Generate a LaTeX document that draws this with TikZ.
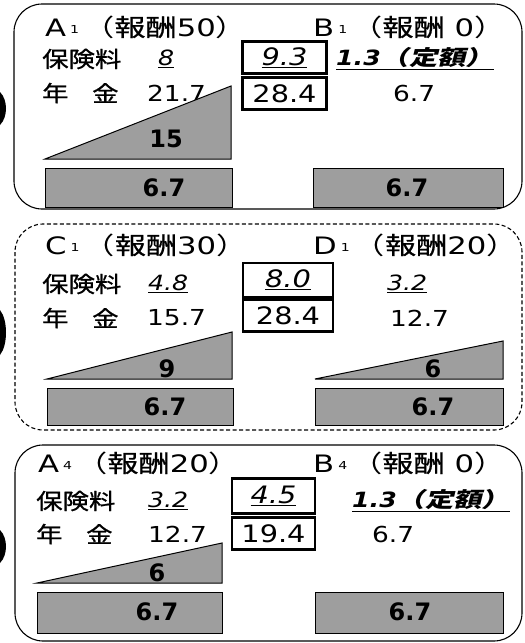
\documentclass[tikz,border=0pt]{standalone}
\usepackage{fontspec}
\setmainfont{DejaVu Sans}
\newfontfamily\numf[FakeStretch=1.2]{DejaVu Sans}
\newfontfamily\ttlf[FakeStretch=1.28]{DejaVu Sans}
\newfontfamily\jp[FakeStretch=1.2,FakeBold=1]{Noto Sans CJK JP}
\newfontfamily\jpt[FakeStretch=1.3,FakeBold=0.8]{Noto Sans CJK JP}
\newfontfamily\jpp[FakeStretch=1.3]{Noto Sans CJK JP}
\newfontfamily\jpit[FakeStretch=1.35,FakeSlant=0.25]{Noto Sans CJK JP}
\newcommand\subn[1]{\hspace{4pt}\raisebox{0.1em}{\fontsize{11}{11}\selectfont #1}\hspace{4pt}}
\begin{document}
\begin{tikzpicture}[x=1pt,y=-1pt,
  panel/.style={draw, line width=1.1pt, rounded corners=28pt},
  ttl/.style={anchor=west, inner sep=0, font=\ttlf\fontsize{24}{24}\selectfont},
  lbl/.style={anchor=west, inner sep=0, font=\jp\fontsize{22}{22}\selectfont},
  num/.style={anchor=west, inner sep=0, font=\numf\fontsize{22}{22}\selectfont},
  prem/.style={anchor=west, inner sep=0, font=\numf\itshape\fontsize{21}{21}\selectfont},
  boxnum/.style={draw, line width=2.2pt, inner sep=0, font=\numf\fontsize{24}{24}\selectfont},
  shadefill/.style={fill=black!38, draw=black, line width=1pt},
  boldnum/.style={inner sep=0, font=\bfseries\fontsize{24}{24}\selectfont},
]
\useasboundingbox (0,0) rectangle (525,643);

% ---------- left markers ----------
\fill (0,92) .. controls (8,100) and (8,117) .. (0,125) -- cycle;
\fill (0,310) .. controls (8,320) and (8,345) .. (0,355) -- cycle;
\fill (0,530) .. controls (8,538) and (8,555) .. (0,563) -- cycle;

% ---------- panel 1 ----------
\draw[panel] (14,4) rectangle (522,209);
\node[ttl] (t1a) at (45,27) {A\subn{1}{\jpp （}{\jpt 報酬}50{\jpp ）}};
\node[ttl] (t1b) at (313,27) {B\subn{1}{\jpp （}{\jpt 報酬} 0{\jpp ）}};
\node[lbl] (p1a) at (42,59) {保険料};
\node[prem] (p1av) at (158,59) {\underline{8}};
\node[prem] (p1bv) at (336,59) {\bfseries\underline{1.3{\jpit （定額）}}};
\node[lbl] (n1a) at (42,93) {年};
\node[lbl] (n1b) at (92,93) {金};
\node[num] (n1av) at (147,93) {21.7};
\node[num] (n1bv) at (393,93) {6.7};
\node[boxnum, minimum width=84, minimum height=32] (b1t) at (284.5,57.5) {\itshape\underline{9.3}};
\node[boxnum, minimum width=84, minimum height=32] (b1b) at (284.5,93.5) {28.4};
\draw[shadefill] (45,159) -- (231,86) -- (231,159) -- cycle;
\node[boldnum] (tr1) at (166,139) {15};
\draw[shadefill] (45,168) rectangle (232,207);
\node[boldnum] (r1a) at (164,188) {6.7};
\draw[shadefill] (313,168) rectangle (503,207);
\node[boldnum] (r1b) at (407,188) {6.7};

% ---------- panel 2 ----------
\draw[panel, dashed, dash pattern=on 4pt off 2.5pt] (15,224) rectangle (522,430);
\node[ttl] (t2a) at (45,245) {C\subn{1}{\jpp （}{\jpt 報酬}30{\jpp ）}};
\node[ttl] (t2b) at (313,245) {D\subn{1}{\jpp （}{\jpt 報酬}20{\jpp ）}};
\node[lbl] (p2a) at (42,284) {保険料};
\node[prem] (p2av) at (148,284) {\underline{4.8}};
\node[prem] (p2bv) at (387,284) {\underline{3.2}};
\node[lbl] (n2a) at (42,318) {年};
\node[lbl] (n2b) at (92,318) {金};
\node[num] (n2av) at (147,318) {15.7};
\node[num] (n2bv) at (390,318) {12.7};
\node[boxnum, minimum width=90, minimum height=34] (b2t) at (288,280) {\itshape\underline{8.0}};
\node[boxnum, minimum width=90, minimum height=32] (b2b) at (288,315.5) {28.4};
\draw[shadefill] (47,379) -- (232,332) -- (232,379) -- cycle;
\node[boldnum] (tr2a) at (167,369) {9};
\draw[shadefill] (315,379) -- (503,341) -- (503,379) -- cycle;
\node[boldnum] (tr2b) at (433,369) {6};
\draw[shadefill] (47,388) rectangle (233,425);
\node[boldnum] (r2a) at (165,407) {6.7};
\draw[shadefill] (315,388) rectangle (503,425);
\node[boldnum] (r2b) at (433,407) {6.7};

% ---------- panel 3 ----------
\draw[panel] (15,445) rectangle (522,641);
\node[ttl] (t3a) at (38,463) {A\subn{4}{\jpp （}{\jpt 報酬}20{\jpp ）}};
\node[ttl] (t3b) at (313,463) {B\subn{4}{\jpp （}{\jpt 報酬} 0{\jpp ）}};
\node[lbl] (p3a) at (36,501) {保険料};
\node[prem] (p3av) at (148,501) {\underline{3.2}};
\node[prem] (p3bv) at (352,501) {\bfseries\underline{1.3{\jpit （定額）}}};
\node[lbl] (n3a) at (36,534) {年};
\node[lbl] (n3b) at (86,534) {金};
\node[num] (n3av) at (148,534) {12.7};
\node[num] (n3bv) at (372,534) {6.7};
\node[boxnum, minimum width=83, minimum height=35] (b3t) at (273.5,496) {\itshape\underline{4.5}};
\node[boxnum, minimum width=83, minimum height=32] (b3b) at (273.5,533.5) {19.4};
\draw[shadefill] (37,583) -- (222,543) -- (222,583) -- cycle;
\node[boldnum] (tr3) at (157,573) {6};
\draw[shadefill] (37,592) rectangle (222,633);
\node[boldnum] (r3a) at (157,612) {6.7};
\draw[shadefill] (315,592) rectangle (503,633);
\node[boldnum] (r3b) at (410,612) {6.7};
\end{tikzpicture}
\end{document}
